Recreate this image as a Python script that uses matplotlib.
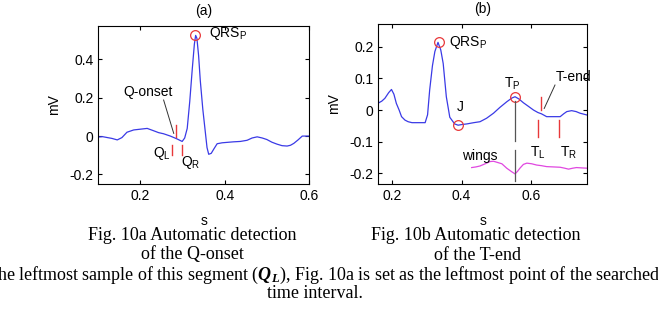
import matplotlib
matplotlib.use("Agg")
import matplotlib.pyplot as plt

plt.rcParams["font.family"] = ["Liberation Sans", "DejaVu Sans"]
plt.rcParams["mathtext.fontset"] = "custom"
plt.rcParams["mathtext.rm"] = "Liberation Serif"
plt.rcParams["mathtext.it"] = "Liberation Serif:italic"
plt.rcParams["mathtext.bf"] = "Liberation Serif:bold"
plt.rcParams["mathtext.bfit"] = "Liberation Serif:italic:bold"

# panel (a): QRS complex, Q-onset search
t_a = [0.100, 0.110, 0.122, 0.132, 0.145, 0.156, 0.168, 0.184, 0.200, 0.216,
       0.231, 0.243, 0.255, 0.271, 0.287, 0.299, 0.305, 0.311, 0.317, 0.323,
       0.328, 0.331, 0.334, 0.338, 0.342, 0.348, 0.354, 0.358, 0.362, 0.368,
       0.374, 0.382, 0.394, 0.410, 0.421, 0.437, 0.453, 0.465, 0.477, 0.489,
       0.500, 0.512, 0.524, 0.536, 0.548, 0.556, 0.564, 0.574, 0.584, 0.600]
v_a = [-0.005, -0.003, -0.008, -0.012, -0.020, -0.008, 0.020, 0.032, 0.036, 0.040,
       0.028, 0.018, 0.012, 0.000, -0.015, -0.028, -0.010, 0.040, 0.180, 0.350,
       0.480, 0.525, 0.510, 0.420, 0.290, 0.140, 0.020, -0.060, -0.095, -0.090,
       -0.068, -0.040, -0.035, -0.032, -0.030, -0.028, -0.022, -0.010, -0.004, -0.010,
       -0.018, -0.032, -0.042, -0.050, -0.052, -0.048, -0.038, -0.020, 0.000, 0.000]
qrs_peak_a = (0.330, 0.529)
q_onset = 0.284
q_left = 0.276
q_right = 0.298

# panel (b): T-wave, T-end search
t_b = [0.160, 0.170, 0.179, 0.190, 0.198, 0.205, 0.212, 0.220, 0.227, 0.237,
       0.246, 0.257, 0.275, 0.295, 0.302, 0.308, 0.316, 0.323, 0.332, 0.340,
       0.347, 0.356, 0.366, 0.380, 0.390, 0.400, 0.415, 0.435, 0.453, 0.472,
       0.492, 0.510, 0.530, 0.545, 0.554, 0.565, 0.578, 0.592, 0.607, 0.620,
       0.630, 0.645, 0.665, 0.684, 0.694, 0.703, 0.717, 0.730, 0.741, 0.762]
v_b = [0.022, 0.028, 0.037, 0.055, 0.065, 0.050, 0.021, 0.000, -0.021, -0.032,
       -0.037, -0.040, -0.040, -0.040, -0.015, 0.063, 0.140, 0.185, 0.214, 0.190,
       0.147, 0.042, -0.023, -0.044, -0.048, -0.046, -0.044, -0.040, -0.037, -0.026,
       -0.010, 0.008, 0.026, 0.038, 0.042, 0.035, 0.023, 0.012, 0.000, -0.008,
       -0.012, -0.021, -0.021, -0.021, -0.012, -0.005, -0.002, -0.005, -0.010, -0.016]
t_wings = [0.429, 0.441, 0.453, 0.468, 0.482, 0.492, 0.501, 0.516, 0.530, 0.544,
           0.554, 0.561, 0.568, 0.578, 0.588, 0.602, 0.616, 0.630, 0.645, 0.665,
           0.684, 0.697, 0.708, 0.720, 0.731, 0.745, 0.762]
v_wings = [-0.182, -0.180, -0.177, -0.170, -0.163, -0.162, -0.165, -0.170, -0.184, -0.195,
           -0.202, -0.194, -0.184, -0.172, -0.168, -0.170, -0.174, -0.176, -0.179, -0.180,
           -0.181, -0.184, -0.187, -0.184, -0.182, -0.183, -0.184]
qrs_peak_b = (0.336, 0.216)
j_point = (0.389, -0.047)
t_peak = (0.553, 0.040)
t_end = 0.629
t_left = 0.621
t_right = 0.680

BLUE = "#3a3ae6"
RED = "#e8383a"
MAG = "#e048e0"

fig = plt.figure(figsize=(6.58, 3.09), dpi=100)
ax_a = fig.add_axes([0.1494, 0.4045, 0.3202, 0.5113])
ax_b = fig.add_axes([0.5749, 0.4045, 0.3176, 0.5178])

for ax in (ax_a, ax_b):
    ax.tick_params(direction="in", top=True, right=True, length=3, labelsize=10)
    for sp in ax.spines.values():
        sp.set_linewidth(0.8)
    ax.set_xlabel("s", fontsize=10, labelpad=8)
    ax.set_ylabel("mV", fontsize=10, labelpad=6)

# ---- panel (a)
ax_a.plot(t_a, v_a, color=BLUE, lw=0.9)
ax_a.plot(*qrs_peak_a, "o", mfc="none", mec=RED, ms=7, mew=0.9)
ax_a.plot([q_onset, q_onset], [0.057, -0.004], color=RED, lw=1)
ax_a.plot([q_left, q_left], [-0.045, -0.100], color=RED, lw=1)
ax_a.plot([q_right, q_right], [-0.045, -0.100], color=RED, lw=1)
ax_a.plot([0.255, 0.279], [0.188, 0.014], color="#333333", lw=0.7)
ax_a.text(0.218, 0.232, "Q-onset", ha="center", va="center", fontsize=10)
ax_a.text(0.252, -0.09, r"Q$_\mathregular{L}$", ha="center", va="center", fontsize=10)
ax_a.text(0.320, -0.14, r"Q$_\mathregular{R}$", ha="center", va="center", fontsize=10)
ax_a.text(0.362, 0.535, r"QRS$_\mathregular{P}$", ha="left", va="center", fontsize=10)
ax_a.set_xlim(0.1, 0.6)
ax_a.set_ylim(-0.25, 0.574)
ax_a.set_xticks([0.2, 0.4, 0.6])
ax_a.set_yticks([-0.2, 0, 0.2, 0.4])
ax_a.set_xticklabels(["0.2", "0.4", "0.6"])
ax_a.set_yticklabels(["-0.2", "0", "0.2", "0.4"])
ax_a.set_title("(a)", fontsize=10, pad=8)

# ---- panel (b)
ax_b.plot(t_b, v_b, color=BLUE, lw=0.9)
ax_b.plot(t_wings, v_wings, color=MAG, lw=0.9)
for pt in (qrs_peak_b, j_point, t_peak):
    ax_b.plot(*pt, "o", mfc="none", mec=RED, ms=7, mew=0.9)
ax_b.plot([t_peak[0], t_peak[0]], [0.030, -0.097], color="#555555", lw=0.9)
ax_b.plot([t_peak[0], t_peak[0]], [-0.125, -0.226], color="#555555", lw=0.9)
ax_b.plot([t_end, t_end], [0.042, 0.0], color=RED, lw=1)
ax_b.plot([t_left, t_left], [-0.032, -0.084], color=RED, lw=1)
ax_b.plot([t_right, t_right], [-0.032, -0.084], color=RED, lw=1)
ax_b.plot([0.669, 0.638], [0.079, 0.005], color="#333333", lw=0.7)
ax_b.text(0.722, 0.103, "T-end", ha="center", va="center", fontsize=10)
ax_b.text(0.619, -0.135, r"T$_\mathregular{L}$", ha="center", va="center", fontsize=10)
ax_b.text(0.708, -0.135, r"T$_\mathregular{R}$", ha="center", va="center", fontsize=10)
ax_b.text(0.546, 0.082, r"T$_\mathregular{P}$", ha="center", va="center", fontsize=10)
ax_b.text(0.396, 0.008, "J", ha="center", va="center", fontsize=10)
ax_b.text(0.363, 0.215, r"QRS$_\mathregular{P}$", ha="left", va="center", fontsize=10)
ax_b.text(0.452, -0.146, "wings", ha="center", va="center", fontsize=10)
ax_b.set_xlim(0.16, 0.762)
ax_b.set_ylim(-0.234, 0.272)
ax_b.set_xticks([0.2, 0.4, 0.6])
ax_b.set_yticks([-0.2, -0.1, 0, 0.1, 0.2])
ax_b.set_xticklabels(["0.2", "0.4", "0.6"])
ax_b.set_yticklabels(["-0.2", "-0.1", "0", "0.1", "0.2"])
ax_b.set_title("(b)", fontsize=10, pad=8)

# ---- captions
cap = dict(family=["Liberation Serif", "DejaVu Serif"], fontsize=13, ha="center", va="center")
fig.text(192 / 658, 1 - 235 / 309, "Fig. 10a Automatic detection", **cap)
fig.text(192 / 658, 1 - 255 / 309, "of the Q-onset", **cap)
fig.text(476 / 658, 1 - 235 / 309, "Fig. 10b Automatic detection", **cap)
fig.text(478 / 658, 1 - 255 / 309, "of the T-end", **cap)
fig.text(326 / 658, 1 - 275 / 309,
         r"the leftmost sample of this segment ($\mathbfit{Q}_{\mathbfit{L}}$), Fig. 10a is set as "
         "the leftmost point of the searched", **cap)
fig.text(315 / 658, 1 - 293 / 309, "time interval.", **cap)

fig.savefig("out.png", dpi=100)
